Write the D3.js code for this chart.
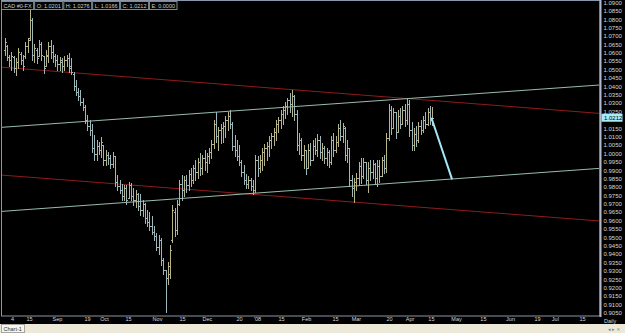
<!DOCTYPE html>
<html><head><meta charset="utf-8">
<script src="https://cdn.jsdelivr.net/npm/d3@7"></script>
<style>html,body{margin:0;padding:0;background:#000;overflow:hidden}svg{display:block}</style>
</head><body><svg id="c" width="625" height="333"></svg>
<script>
// Daily OHLC bars [open, high, low, close]
const ohlc = [
[1.0616,1.0688,1.0586,1.0664],[1.0640,1.0646,1.0556,1.0574],[1.0574,1.0586,1.0521,1.0556],[1.0556,1.0604,1.0497,1.0580],
[1.0574,1.0580,1.0485,1.0509],[1.0509,1.0568,1.0467,1.0544],[1.0544,1.0628,1.0509,1.0604],[1.0592,1.0604,1.0533,1.0556],
[1.0556,1.0586,1.0497,1.0521],[1.0580,1.0664,1.0568,1.0640],[1.0640,1.0688,1.0604,1.0676],[1.0688,1.0866,1.0676,1.0795],
[1.0795,1.0807,1.0556,1.0586],[1.0586,1.0652,1.0544,1.0628],[1.0616,1.0628,1.0538,1.0568],[1.0580,1.0676,1.0580,1.0652],
[1.0652,1.0664,1.0556,1.0586],[1.0580,1.0580,1.0479,1.0509],[1.0521,1.0616,1.0521,1.0586],[1.0580,1.0664,1.0544,1.0640],
[1.0640,1.0676,1.0568,1.0604],[1.0604,1.0646,1.0544,1.0580],[1.0580,1.0592,1.0521,1.0556],[1.0556,1.0586,1.0497,1.0533],
[1.0533,1.0574,1.0497,1.0556],[1.0544,1.0568,1.0485,1.0521],[1.0521,1.0580,1.0497,1.0556],[1.0556,1.0586,1.0521,1.0568],
[1.0568,1.0598,1.0485,1.0509],[1.0521,1.0568,1.0473,1.0485],[1.0473,1.0485,1.0378,1.0401],[1.0401,1.0437,1.0348,1.0366],
[1.0366,1.0390,1.0318,1.0342],[1.0342,1.0378,1.0288,1.0306],[1.0306,1.0330,1.0258,1.0276],[1.0276,1.0288,1.0181,1.0199],
[1.0199,1.0229,1.0139,1.0163],[1.0163,1.0199,1.0109,1.0139],[1.0139,1.0175,1.0008,1.0032],[1.0032,1.0109,0.9960,0.9996],
[0.9996,1.0080,0.9960,1.0044],[1.0044,1.0068,0.9996,1.0020],[1.0020,1.0097,0.9978,1.0068],[1.0050,1.0050,0.9931,0.9960],
[0.9960,1.0020,0.9931,0.9990],[0.9990,1.0008,0.9937,0.9972],[0.9972,0.9990,0.9913,0.9937],[0.9937,1.0008,0.9919,0.9984],
[0.9984,0.9984,0.9805,0.9829],[0.9829,0.9871,0.9782,0.9805],[0.9805,0.9841,0.9764,0.9782],[0.9782,0.9817,0.9722,0.9746],
[0.9746,0.9811,0.9722,0.9794],[0.9794,0.9811,0.9698,0.9722],[0.9734,0.9829,0.9734,0.9811],[0.9811,0.9823,0.9722,0.9746],
[0.9746,0.9794,0.9692,0.9722],[0.9722,0.9782,0.9680,0.9758],[0.9758,0.9764,0.9662,0.9686],[0.9686,0.9758,0.9633,0.9662],
[0.9662,0.9722,0.9627,0.9698],[0.9698,0.9704,0.9585,0.9615],[0.9615,0.9662,0.9567,0.9591],[0.9591,0.9651,0.9543,0.9567],
[0.9567,0.9627,0.9519,0.9531],[0.9531,0.9567,0.9484,0.9507],[0.9507,0.9525,0.9424,0.9442],[0.9442,0.9513,0.9400,0.9484],
[0.9484,0.9496,0.9335,0.9364],[0.9364,0.9376,0.9281,0.9305],[0.9305,0.9305,0.9055,0.9257],[0.9257,0.9353,0.9221,0.9329],
[0.9281,0.9454,0.9257,0.9424],[0.9484,0.9692,0.9472,0.9662],[0.9651,0.9674,0.9507,0.9543],[0.9543,0.9722,0.9519,0.9698],
[0.9698,0.9841,0.9692,0.9817],[0.9817,0.9871,0.9722,0.9782],[0.9782,0.9865,0.9746,0.9841],[0.9841,0.9871,0.9770,0.9811],
[0.9811,0.9901,0.9782,0.9877],[0.9877,0.9913,0.9805,0.9841],[0.9841,0.9931,0.9823,0.9913],[0.9913,0.9960,0.9841,0.9889],
[0.9889,0.9972,0.9853,0.9949],[0.9949,1.0002,0.9871,0.9913],[0.9913,0.9990,0.9877,0.9972],[0.9972,1.0020,0.9901,0.9949],
[0.9949,1.0002,0.9889,0.9984],[0.9984,1.0032,0.9943,1.0008],[1.0008,1.0080,0.9972,1.0056],[1.0056,1.0199,1.0032,1.0175],
[1.0175,1.0246,1.0068,1.0103],[1.0103,1.0157,1.0020,1.0139],[1.0139,1.0175,1.0062,1.0151],[1.0151,1.0187,1.0068,1.0163],
[1.0163,1.0223,1.0097,1.0199],[1.0199,1.0246,1.0139,1.0223],[1.0223,1.0258,1.0151,1.0175],[1.0175,1.0187,1.0020,1.0044],
[1.0044,1.0109,0.9984,1.0020],[1.0020,1.0080,0.9960,0.9984],[0.9984,1.0050,0.9931,0.9949],[0.9949,0.9960,0.9865,0.9889],
[0.9889,0.9931,0.9817,0.9841],[0.9841,0.9877,0.9794,0.9817],[0.9817,0.9865,0.9794,0.9841],[0.9841,0.9853,0.9782,0.9805],
[0.9805,0.9841,0.9758,0.9782],[0.9782,0.9990,0.9770,0.9960],[0.9960,0.9984,0.9865,0.9913],[0.9913,0.9990,0.9889,0.9960],
[0.9960,1.0032,0.9901,1.0008],[1.0008,1.0056,0.9931,1.0032],[1.0032,1.0068,0.9960,1.0044],[1.0044,1.0103,0.9984,1.0080],
[1.0080,1.0121,1.0032,1.0103],[1.0103,1.0151,1.0050,1.0127],[1.0127,1.0199,1.0080,1.0175],[1.0175,1.0217,1.0127,1.0199],
[1.0199,1.0258,1.0151,1.0235],[1.0235,1.0282,1.0175,1.0258],[1.0258,1.0306,1.0211,1.0282],[1.0282,1.0330,1.0235,1.0318],
[1.0318,1.0360,1.0246,1.0294],[1.0294,1.0378,1.0223,1.0342],[1.0342,1.0348,1.0199,1.0235],[1.0235,1.0258,1.0020,1.0050],
[1.0050,1.0121,0.9996,1.0080],[1.0080,1.0092,0.9960,0.9990],[0.9990,1.0050,0.9913,1.0020],[1.0020,1.0020,0.9877,0.9913],
[0.9913,1.0056,0.9913,1.0020],[1.0020,1.0062,0.9931,0.9960],[0.9960,1.0080,0.9960,1.0044],[1.0044,1.0092,0.9996,1.0020],
[1.0020,1.0115,0.9984,1.0080],[1.0080,1.0103,0.9972,1.0008],[1.0008,1.0062,0.9960,1.0032],[1.0032,1.0044,0.9943,0.9972],
[0.9972,1.0032,0.9931,1.0008],[1.0008,1.0020,0.9919,0.9949],[0.9949,1.0103,0.9937,1.0080],[1.0080,1.0121,0.9984,1.0020],
[1.0020,1.0103,1.0008,1.0068],[1.0068,1.0175,1.0044,1.0151],[1.0151,1.0199,1.0080,1.0103],[1.0103,1.0181,1.0068,1.0163],
[1.0151,1.0157,0.9960,0.9990],[0.9990,1.0080,0.9949,1.0032],[1.0032,1.0032,0.9805,0.9841],[0.9841,0.9871,0.9746,0.9794],
[0.9794,0.9853,0.9710,0.9829],[0.9829,0.9883,0.9782,0.9853],[0.9853,0.9949,0.9811,0.9925],[0.9925,0.9972,0.9823,0.9865],
[0.9865,0.9972,0.9853,0.9949],[0.9949,0.9949,0.9817,0.9841],[0.9841,0.9949,0.9770,0.9913],[0.9913,0.9960,0.9841,0.9889],
[0.9889,0.9960,0.9853,0.9937],[0.9937,0.9943,0.9817,0.9853],[0.9853,0.9960,0.9805,0.9925],[0.9925,0.9960,0.9829,0.9865],
[0.9865,0.9978,0.9865,0.9960],[0.9960,0.9990,0.9883,0.9913],[0.9913,1.0121,0.9889,1.0092],[1.0092,1.0294,1.0080,1.0258],
[1.0258,1.0282,1.0115,1.0151],[1.0151,1.0270,1.0151,1.0246],[1.0246,1.0246,1.0092,1.0127],[1.0127,1.0258,1.0127,1.0223],
[1.0223,1.0270,1.0151,1.0175],[1.0175,1.0282,1.0175,1.0258],[1.0258,1.0294,1.0163,1.0199],[1.0199,1.0324,1.0175,1.0294],
[1.0294,1.0318,1.0103,1.0139],[1.0139,1.0187,1.0020,1.0050],[1.0050,1.0151,1.0020,1.0115],[1.0115,1.0163,1.0044,1.0080],
[1.0080,1.0187,1.0068,1.0163],[1.0163,1.0199,1.0115,1.0139],[1.0139,1.0223,1.0127,1.0199],[1.0199,1.0246,1.0151,1.0175],
[1.0175,1.0270,1.0169,1.0246],[1.0246,1.0282,1.0175,1.0211],[1.0201,1.0276,1.0166,1.0212]
];

// Trend lines: [barIndex, price] endpoints
const redUpper   = [[-2, 1.0514], [258.5, 1.0238]];
const redLower   = [[-2, 0.9871], [258.5, 0.9597]];
const greenUpper = [[-2, 1.0154], [258.5, 1.0407]];
const greenLower = [[-2, 0.9653], [258.5, 0.9910]];
const projection = [[185.6, 1.0212], [194.6, 0.9845]];

const priceTicks = [1.0900,1.0850,1.0800,1.0750,1.0700,1.0650,1.0600,1.0550,1.0500,1.0450,1.0400,1.0350,1.0300,1.0250,
  1.0200,1.0150,1.0100,1.0050,1.0000,0.9950,0.9900,0.9850,0.9800,0.9750,0.9700,0.9650,0.9600,0.9550,0.9500,0.9450,
  0.9400,0.9350,0.9300,0.9250,0.9200,0.9150,0.9100,0.9050];
const dateTickBars = [3.3,10.7,22.8,35.9,43.3,53.7,66.3,77.2,88.0,102,109.8,120.2,131.1,143.7,152.8,167.2,176.1,185.4,196.3,208,219.8,231.5,239.3,251.1];
const dateTickLabels = ["4","15","Sep","19","Oct","15","Nov","15","Dec","20","'08","15","Feb","15","Mar","20","Apr","15","May","15","Jun","19","Jul","15"];
const headerFields = ["CAD #0-FX","O: 1.0201","H: 1.0276","L: 1.0166","C: 1.0212","E: 0.0000"];
const lastPrice = 1.0212;

const svg = d3.select("#c");
const W = 625, H = 333;
const plotL = 1.5, plotR = 600, plotT = 0.5, plotB = 316;

const x = d3.scaleLinear().domain([0, 260]).range([4.5, 602.5]);
const y = d3.scaleLinear().domain([0.9050, 1.0900]).range([312.7, 2.3]);

svg.append("rect").attr("width", W).attr("height", H).attr("fill", "#000");

const defs = svg.append("defs");
defs.append("clipPath").attr("id", "clip").append("rect")
  .attr("x", plotL + 0.5).attr("y", plotT + 0.5).attr("width", plotR - plotL - 1).attr("height", plotB - plotT - 1);

const g = svg.append("g").attr("clip-path", "url(#clip)");

// trend lines
const line = d3.line().x(d => x(d[0])).y(d => y(d[1]));
[[redUpper, "#8e1c1c"], [redLower, "#8e1c1c"], [greenUpper, "#98bcae"], [greenLower, "#98bcae"]].forEach(([d, c]) => {
  g.append("path").attr("d", line(d)).attr("fill", "none").attr("stroke", c).attr("stroke-width", 1);
});

// bars
g.append("g").selectAll("path").data(ohlc).join("path")
  .attr("d", (d, i) => {
    const cx = Math.round(x(i)) + 0.5;
    const yo = Math.round(y(d[0])) + 0.5, yh = Math.round(y(d[1])), yl = Math.round(y(d[2])) + 1, yc = Math.round(y(d[3])) + 0.5;
    return `M${cx},${yh}V${yl}M${cx - 1.5},${yo}H${cx}M${cx},${yc}H${cx + 1.5}`;
  })
  .attr("fill", "none")
  .attr("stroke", d => d[3] >= d[0] ? "#b9b388" : "#9cb8ba")
  .attr("stroke-width", 1)
  .attr("shape-rendering", "crispEdges");

// projection arrow line
g.append("path").attr("d", line(projection)).attr("fill", "none")
  .attr("stroke", "#a6e6f6").attr("stroke-width", 2);

// frame
svg.append("rect").attr("x", plotL).attr("y", plotT).attr("width", plotR - plotL).attr("height", plotB - plotT)
  .attr("fill", "none").attr("stroke", "#8a96aa").attr("stroke-width", 1);
svg.append("line").attr("x1", 600.5).attr("x2", 600.5).attr("y1", 0).attr("y2", 317)
  .attr("stroke", "#b4b8cc").attr("stroke-width", 2);

// price axis (labels hidden under the last-price marker, as in the terminal)
const ya = svg.append("g").attr("transform", "translate(601,0)")
  .call(d3.axisRight(y).tickValues(priceTicks).tickFormat(d3.format(".4f")).tickSize(0).tickPadding(2.5));
ya.select(".domain").remove();
ya.selectAll(".tick").filter(d => Math.abs(y(d) - y(lastPrice)) < 6).remove();
ya.selectAll("text").attr("fill", "#d8d8d8").attr("font-family", "Liberation Sans, Arial, sans-serif").attr("font-size", "6px");

// last price marker
const lp = svg.append("g").attr("transform", `translate(601,${y(lastPrice)})`);
lp.append("rect").attr("x", 0.5).attr("y", -4).attr("width", 21).attr("height", 8).attr("fill", "#a8ecf8");
lp.append("text").attr("x", 3).attr("y", 2.2).attr("fill", "#000")
  .attr("font-family", "Liberation Sans, Arial, sans-serif").attr("font-size", "6px").text(d3.format(".4f")(lastPrice));

// date axis
const xa = svg.append("g").attr("transform", `translate(0,${plotB})`)
  .call(d3.axisBottom(x).tickValues(dateTickBars).tickFormat((d, i) => dateTickLabels[i]).tickSize(0).tickPadding(1.5));
xa.select(".domain").remove();
xa.selectAll("text").attr("fill", "#d8d8d8").attr("font-family", "Liberation Sans, Arial, sans-serif").attr("font-size", "5.5px");
svg.append("text").attr("x", 604).attr("y", 322.5).attr("fill", "#d8d8d8")
  .attr("font-family", "Liberation Sans, Arial, sans-serif").attr("font-size", "5.5px").text("Daily");

// header boxes
const hg = svg.append("g").attr("font-family", "Liberation Sans, Arial, sans-serif").attr("font-size", "5.5px");
let hx = 1.5;
headerFields.forEach(t => {
  const tx = hg.append("text").attr("x", hx + 2).attr("y", 7.5).attr("fill", "#c8d0d0").text(t);
  const w = tx.node().getComputedTextLength() + 4;
  hg.insert("rect", "text").attr("x", hx).attr("y", 1.5).attr("width", w).attr("height", 8)
    .attr("fill", "#000").attr("stroke", "#7a8c94").attr("stroke-width", 1);
  hx += w + 1;
});

// bottom status strip
svg.append("rect").attr("x", 0).attr("y", 324).attr("width", W).attr("height", 9).attr("fill", "#ece9d8");
svg.append("rect").attr("x", 1.5).attr("y", 324.5).attr("width", 23).attr("height", 8).attr("fill", "#f7f6ee").attr("stroke", "#a8a69a");
svg.append("text").attr("x", 3.5).attr("y", 330.8).attr("fill", "#303030")
  .attr("font-family", "Liberation Sans, Arial, sans-serif").attr("font-size", "5.5px").text("Chart-1");
svg.append("text").attr("x", 608).attr("y", 331).attr("fill", "#808080")
  .attr("font-family", "DejaVu Sans, sans-serif").attr("font-size", "5px").text("◂ ▸ ×");
</script></body></html>
